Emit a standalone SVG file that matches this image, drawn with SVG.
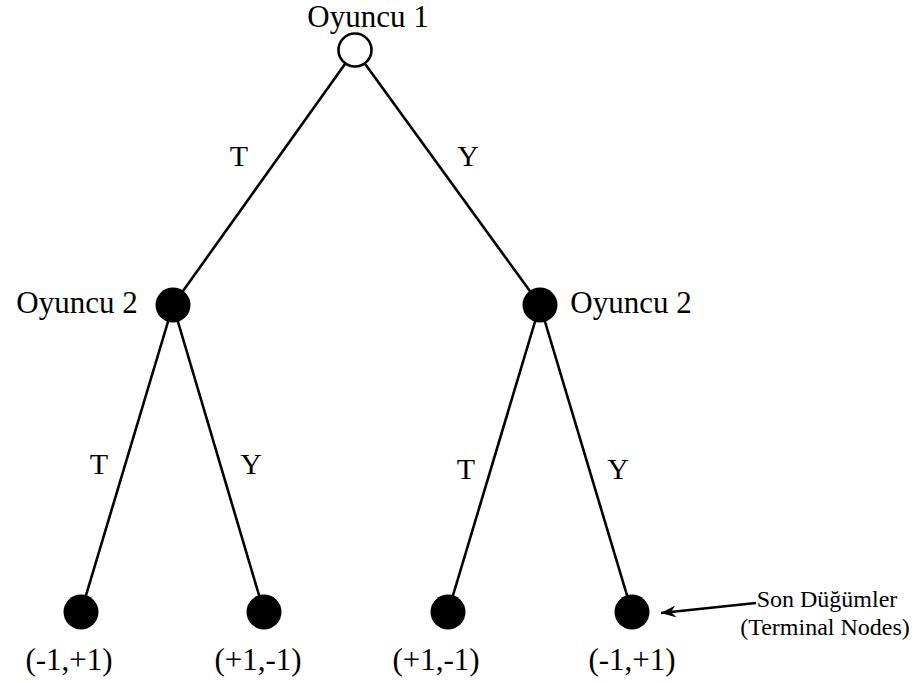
<svg xmlns="http://www.w3.org/2000/svg" width="920" height="683" viewBox="0 0 920 683">
<defs>
<style>
text{font-family:"Liberation Serif","Times New Roman",serif;fill:#000}
.lbl{font-size:31px}
.mv{font-size:30px;text-anchor:middle}
.pay{font-size:31px;text-anchor:middle}
.note{font-size:24px}
.edge{stroke:#000;stroke-width:2.6;fill:none}
.leaf{fill:#000}
</style>
<marker id="arr" viewBox="0 0 16 12" refX="15" refY="6" markerWidth="16" markerHeight="12" markerUnits="userSpaceOnUse" orient="auto">
<path d="M0,0 L15,6 L0,12 L5,6 Z" fill="#000"/>
</marker>
</defs>
<rect width="920" height="683" fill="#fff"/>
<g id="connectors">
<line class="edge" x1="355" y1="50" x2="173" y2="305"/>
<line class="edge" x1="355" y1="50" x2="540" y2="305"/>
<line class="edge" x1="173" y1="305" x2="81" y2="612"/>
<line class="edge" x1="173" y1="305" x2="264" y2="612"/>
<line class="edge" x1="540" y1="305" x2="448" y2="612"/>
<line class="edge" x1="540" y1="305" x2="632" y2="612"/>
<line class="edge" x1="756" y1="603" x2="661" y2="613" stroke-width="2.2" marker-end="url(#arr)"/>
<text class="mv" x="239" y="166">T</text>
<text class="mv" x="468" y="166">Y</text>
<text class="mv" x="99" y="474">T</text>
<text class="mv" x="251" y="474">Y</text>
<text class="mv" x="466" y="479">T</text>
<text class="mv" x="618" y="479">Y</text>
</g>
<g id="root">
<circle cx="355" cy="50" r="16.5" fill="#fff" stroke="#000" stroke-width="2.6"/>
<text class="lbl" x="368" y="27" text-anchor="middle">Oyuncu 1</text>
</g>
<g id="p2left">
<circle cx="173" cy="305" r="17.5" class="leaf"/>
<text class="lbl" x="77" y="313" text-anchor="middle">Oyuncu 2</text>
</g>
<g id="p2right">
<circle cx="540" cy="305" r="17.5" class="leaf"/>
<text class="lbl" x="631" y="313" text-anchor="middle">Oyuncu 2</text>
</g>
<g id="leaf1">
<circle cx="81" cy="612" r="17.5" class="leaf"/>
<text class="pay" x="69" y="670">(-1,+1)</text>
</g>
<g id="leaf2">
<circle cx="264" cy="612" r="17.5" class="leaf"/>
<text class="pay" x="258" y="670">(+1,-1)</text>
</g>
<g id="leaf3">
<circle cx="448" cy="612" r="17.5" class="leaf"/>
<text class="pay" x="436" y="670">(+1,-1)</text>
</g>
<g id="leaf4">
<circle cx="632" cy="612" r="17.5" class="leaf"/>
<text class="pay" x="632" y="670">(-1,+1)</text>
</g>
<g id="terminal-note">
<text class="note" x="827" y="607" text-anchor="middle">Son Düğümler</text>
<text class="note" x="825" y="635" text-anchor="middle">(Terminal Nodes)</text>
</g>
</svg>
